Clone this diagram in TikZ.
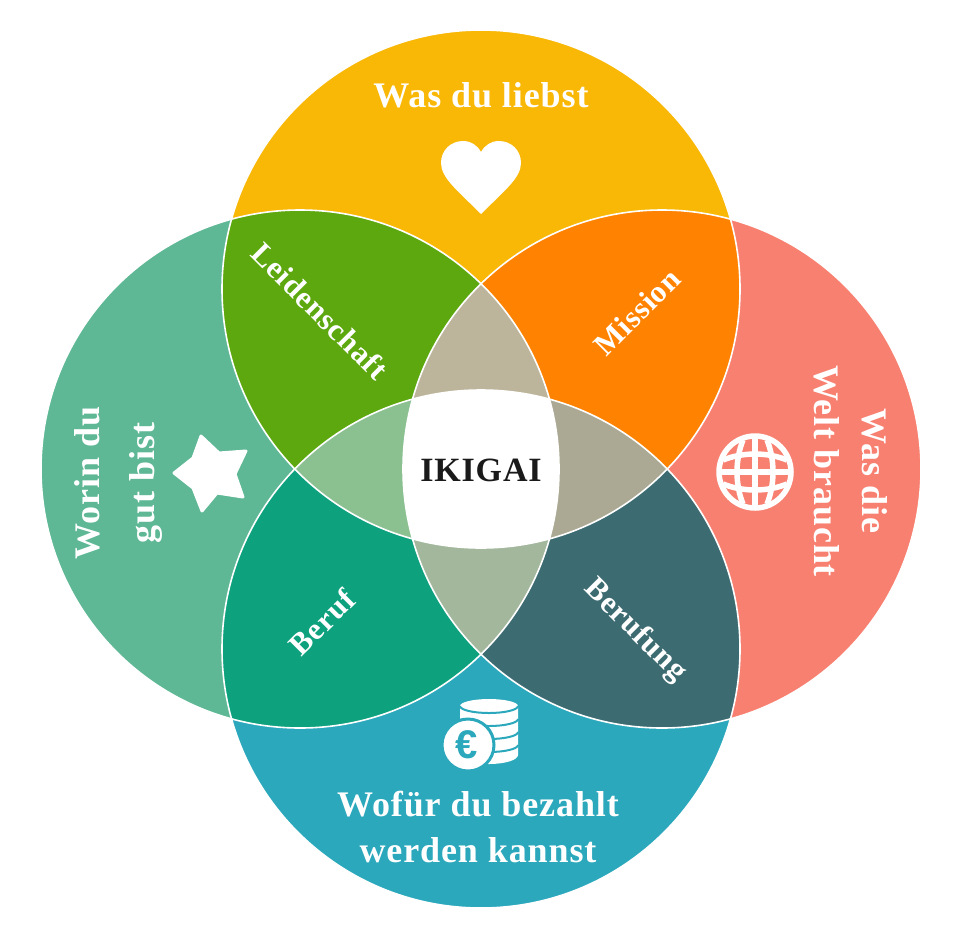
\documentclass[tikz,border=0pt]{standalone}
\usepackage{fontspec}
\usepackage{xcolor}
\usepackage{tikz}
\setmainfont[LetterSpace=2.5]{Liberation Serif}
\newfontfamily\eurofont{Liberation Sans}
\definecolor{topyellow}{RGB}{249, 183, 6}
\definecolor{rightsalmon}{RGB}{248, 128, 112}
\definecolor{bottomteal}{RGB}{43, 168, 188}
\definecolor{leftgreen}{RGB}{94, 183, 149}
\definecolor{passiongreen}{RGB}{92, 168, 14}
\definecolor{missionorange}{RGB}{255, 131, 0}
\definecolor{jobgreen}{RGB}{13, 161, 126}
\definecolor{callingteal}{RGB}{61, 107, 114}
\definecolor{midtop}{RGB}{189, 181, 155}
\definecolor{midright}{RGB}{171, 169, 148}
\definecolor{midbottom}{RGB}{162, 183, 155}
\definecolor{midleft}{RGB}{139, 192, 145}
\definecolor{labelink}{RGB}{26, 26, 26}

\begin{document}
\begin{tikzpicture}[
    x=1pt, y=-1pt,
    lbl/.style={font=\bfseries\fontsize{36}{46}\selectfont, text=white, align=center, inner sep=0pt},
    sublbl/.style={font=\bfseries\fontsize{31}{40}\selectfont, text=white, align=center, inner sep=0pt},
    ring/.style={draw=white, line width=1.6pt},
    glyph/.style={draw=white, line width=5.5pt},
    coinline/.style={draw=bottomteal, line width=2pt}
]
\useasboundingbox (0,0) rectangle (960,937);

\coordinate (ctop) at (481,289);
\coordinate (cbottom) at (481,649);
\coordinate (cleft) at (300,469);
\coordinate (cright) at (662,469);

% Circles
\fill[topyellow] (ctop) circle (259);
\fill[rightsalmon] (cright) circle (259);
\fill[bottomteal] (cbottom) circle (259);
\fill[leftgreen] (cleft) circle (259);

% Two-way overlaps
\begin{scope}
\clip (ctop) circle (259);
\fill[passiongreen] (cleft) circle (259);
\fill[missionorange] (cright) circle (259);
\end{scope}
\begin{scope}
\clip (cbottom) circle (259);
\fill[jobgreen] (cleft) circle (259);
\fill[callingteal] (cright) circle (259);
\end{scope}

% Three-way overlaps
\begin{scope}
\clip (cleft) circle (259);
\clip (cright) circle (259);
\fill[midtop] (ctop) circle (259);
\fill[midbottom] (cbottom) circle (259);
\end{scope}
\begin{scope}
\clip (ctop) circle (259);
\clip (cbottom) circle (259);
\fill[midleft] (cleft) circle (259);
\fill[midright] (cright) circle (259);
\end{scope}

% Middle
\begin{scope}
\clip (ctop) circle (259);
\clip (cbottom) circle (259);
\clip (cleft) circle (259);
\fill[white] (cright) circle (259);
\end{scope}

% Outlines
\draw[ring] (ctop) circle (259);
\draw[ring] (cright) circle (259);
\draw[ring] (cbottom) circle (259);
\draw[ring] (cleft) circle (259);

% Heart
\fill[white] (481,214) .. controls (458,191) and (441,178) .. (441,163)
  .. controls (441,150) and (451,141) .. (463,141)
  .. controls (471,141) and (477,145) .. (481,152)
  .. controls (485,145) and (491,141) .. (499,141)
  .. controls (511,141) and (521,150) .. (521,163)
  .. controls (521,178) and (504,191) .. (481,214) -- cycle;

% Star
\fill[white, draw=white, line width=3pt, line join=round]
  (201,436) -- (219,453) -- (246,451) -- (235,474) -- (243,497)
  -- (217,493) -- (202,511) -- (193,488) -- (174,473) -- (193,458) -- cycle;

% Globe
\draw[glyph] (755,472) circle (36);
\draw[glyph] (743,440) .. controls (735,460) and (735,484) .. (743,504);
\draw[glyph] (767,440) .. controls (775,460) and (775,484) .. (767,504);
\draw[glyph] (723,460) .. controls (743,452) and (767,452) .. (787,460);
\draw[glyph] (723,484) .. controls (743,492) and (767,492) .. (787,484);
\draw[glyph] (755,436) -- (755,508);
\draw[glyph] (719,472) -- (791,472);

% Coins
\fill[white] (460,706) arc (180:360:29 and 7) -- (518,755) arc (0:180:29 and 9) -- cycle;
\draw[coinline] (460,706) arc (180:0:29 and 7);
\draw[coinline] (460,719) arc (180:0:29 and 7);
\draw[coinline] (460,732) arc (180:0:29 and 7);
\draw[coinline] (460,745) arc (180:0:29 and 7);
\fill[white, draw=bottomteal, line width=3pt] (468,745) circle (26);
\node[font=\eurofont\bfseries\fontsize{40}{40}\selectfont, text=bottomteal, inner sep=0pt] (euro) at (467,745) {€};

% Labels
\node[lbl] (love) at (481,95) {Was du liebst};
\node[lbl, rotate=90] (good) at (118,483) {Worin du\\[9pt]gut bist};
\node[lbl, rotate=-90] (world) at (851,471) {Was die\\[2pt]Welt braucht};
\node[lbl] (paid) at (478,827) {Wofür du bezahlt\\werden kannst};
\node[sublbl, rotate=-45] (passion) at (320,311) {Leidenschaft};
\node[sublbl, rotate=45] (mission) at (637,312) {Mission};
\node[sublbl, rotate=45] (job) at (322,622) {Beruf};
\node[sublbl, rotate=-45] (calling) at (635,631) {Berufung};
\node[font=\bfseries\fontsize{34}{34}\selectfont, text=labelink, inner sep=0pt] (ikigai) at (481,470) {IKIGAI};

\end{tikzpicture}
\end{document}
